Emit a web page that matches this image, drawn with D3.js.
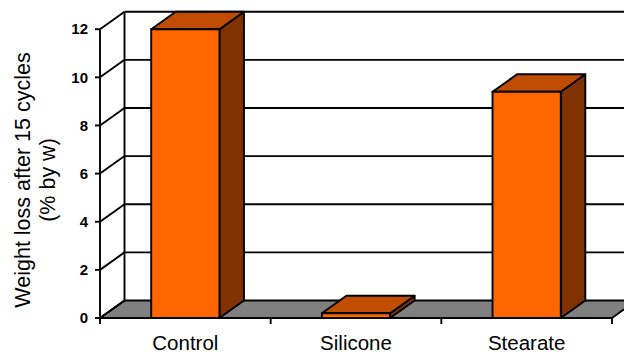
<!DOCTYPE html>
<html>
<head>
<meta charset="utf-8">
<script src="https://cdn.jsdelivr.net/npm/d3@7"></script>
<style>
  html, body { margin: 0; padding: 0; background: #fff; }
  svg { display: block; }
  text { font-family: "Liberation Sans", Arial, sans-serif; fill: #000; }
</style>
</head>
<body>
<svg id="chart" width="624" height="354"></svg>
<script>
// Weight loss after 15 freeze/thaw cycles by treatment
const categories = ["Control", "Silicone", "Stearate"];
const weightLoss = [12.0, 0.2, 9.4];
const yTicks = [0, 2, 4, 6, 8, 10, 12];
const titleLines = ["Weight loss after 15 cycles", "(% by w)"];

const svg = d3.select("#chart");

// front plane of the 3-D plot box
const x0 = 100, x1 = 612;
const yBottom = 318, yTop = 29.2;
// depth offset of the back wall
const dx = 24.5, dy = -17.5;

const x = d3.scaleBand()
  .domain(categories)
  .range([x0, x1])
  .paddingInner(0.6)
  .paddingOuter(0.3);

const y = d3.scaleLinear().domain([0, 12]).range([yBottom, yTop]);

const line = d3.line();
const poly = pts => line(pts) + "Z";

const ink = "#000";
const lw = 1.9;

// floor
svg.append("path")
  .attr("d", poly([[x0, y(0)], [x1, y(0)], [x1 + dx, y(0) + dy], [x0 + dx, y(0) + dy]]))
  .attr("fill", "#808080")
  .attr("stroke", ink)
  .attr("stroke-width", lw)
  .attr("stroke-linejoin", "round");

// back-wall gridlines and left-wall diagonals
const grid = svg.append("g")
  .attr("stroke", ink)
  .attr("stroke-width", lw)
  .attr("fill", "none");

yTicks.forEach(t => {
  if (t > 0) {
    grid.append("line")
      .attr("x1", x0 + dx).attr("y1", y(t) + dy)
      .attr("x2", x1 + dx).attr("y2", y(t) + dy);
  }
  grid.append("line")
    .attr("x1", x0).attr("y1", y(t))
    .attr("x2", x0 + dx).attr("y2", y(t) + dy);
});

// back corner and front value axis
grid.append("line")
  .attr("x1", x0 + dx).attr("y1", y(12) + dy)
  .attr("x2", x0 + dx).attr("y2", y(0) + dy);
grid.append("line")
  .attr("x1", x0).attr("y1", y(12))
  .attr("x2", x0).attr("y2", y(0));

// columns
const bw = x.bandwidth();
const bars = svg.append("g")
  .attr("stroke", ink)
  .attr("stroke-width", lw)
  .attr("stroke-linejoin", "round");

categories.forEach((c, i) => {
  const v = weightLoss[i];
  const bx = x(c), yt = y(v), yb = y(0);
  // side
  bars.append("path")
    .attr("d", poly([[bx + bw, yt], [bx + bw + dx, yt + dy], [bx + bw + dx, yb + dy], [bx + bw, yb]]))
    .attr("fill", "#803300");
  // top
  bars.append("path")
    .attr("d", poly([[bx, yt], [bx + dx, yt + dy], [bx + bw + dx, yt + dy], [bx + bw, yt]]))
    .attr("fill", "#c04c00");
  // front
  bars.append("path")
    .attr("d", poly([[bx, yt], [bx + bw, yt], [bx + bw, yb], [bx, yb]]))
    .attr("fill", "#ff6600");
});

// value axis ticks and labels
const yAxis = svg.append("g");
yTicks.forEach(t => {
  yAxis.append("line")
    .attr("x1", x0 - 5).attr("x2", x0)
    .attr("y1", y(t)).attr("y2", y(t))
    .attr("stroke", ink).attr("stroke-width", lw);
  yAxis.append("text")
    .attr("x", 88).attr("y", y(t))
    .attr("dy", "0.35em")
    .attr("text-anchor", "end")
    .attr("font-size", 15)
    .attr("font-weight", "bold")
    .text(t);
});

// category axis: front edge, ticks between bands, labels
const xAxis = svg.append("g");
const step = x.step();
d3.range(categories.length + 1).forEach(k => {
  const tx = x0 + k * step;
  xAxis.append("line")
    .attr("x1", tx).attr("x2", tx)
    .attr("y1", y(0)).attr("y2", y(0) + 6)
    .attr("stroke", ink).attr("stroke-width", lw);
});
xAxis.append("line")
  .attr("x1", x0).attr("x2", x1)
  .attr("y1", y(0)).attr("y2", y(0))
  .attr("stroke", ink).attr("stroke-width", lw);

categories.forEach(c => {
  xAxis.append("text")
    .attr("x", x(c) + bw / 2)
    .attr("y", 349.5)
    .attr("text-anchor", "middle")
    .attr("font-size", 20.5)
    .text(c);
});

// value axis title
const cy = 180;
titleLines.forEach((s, i) => {
  svg.append("text")
    .attr("transform", `translate(${30 + i * 25},${cy}) rotate(-90)`)
    .attr("text-anchor", "middle")
    .attr("font-size", 21.5)
    .text(s);
});
</script>
</body>
</html>
